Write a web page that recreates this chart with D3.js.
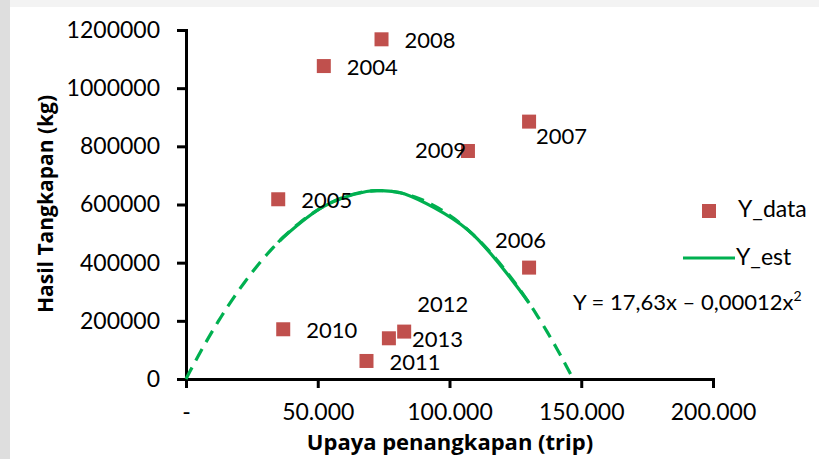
<!DOCTYPE html>
<html>
<head>
<meta charset="utf-8">
<script src="https://cdn.jsdelivr.net/npm/d3@7"></script>
<style>
  html, body { margin: 0; padding: 0; background: #fff; }
  svg { display: block; font-family: Lato, "Open Sans", sans-serif; }
</style>
</head>
<body>
<svg id="chart" width="819" height="459"></svg>
<script>
// Observed catch vs. fishing effort, per year
const years  = ["2004","2005","2006","2007","2008","2009","2010","2011","2012","2013"];
const effort = [52300, 35000, 130200, 130200, 74200, 107000, 36900, 68500, 82800, 77000];
const catchData = [1076000, 618000, 383000, 885000, 1168000, 784000, 171000, 62000, 163000, 140000];
// Estimated catch at each year's effort
const catchEst = [593814, 470050, 261181, 261181, 647469, 512530, 487154, 644585, 637063, 646030];
// Fitted model Y = a*x - b*x^2
const coefA = 17.63, coefB = 0.00012;

const yTicks = [0, 200000, 400000, 600000, 800000, 1000000, 1200000];
const xTicks = [0, 50000, 100000, 150000, 200000];
const xTickLabels = ["-", "50.000", "100.000", "150.000", "200.000"];

// Year label placement: default sits right of the marker; some are moved
const labelOffsets = {
  "2006": [-57, -29], "2007": [-16, 13], "2009": [-76, -2], "2012": [-10, -29]
};

const svg = d3.select("#chart");

// faint page edge bands
svg.append("rect").attr("x", 0).attr("y", 0).attr("width", 819).attr("height", 7).attr("fill", "#f3f3f3");
svg.append("rect").attr("x", 0).attr("y", 0).attr("width", 10).attr("height", 459).attr("fill", "#dedede");

const x = d3.scaleLinear().domain([0, 200000]).range([186, 713]);
const y = d3.scaleLinear().domain([0, 1200000]).range([379, 30]);

// Y axis
const yAxisG = svg.append("g").attr("class", "y-axis").attr("transform", "translate(186,0)")
  .call(d3.axisLeft(y).tickValues(yTicks).tickSize(9).tickSizeOuter(0).tickPadding(17)
    .tickFormat(d3.format("d")));
// X axis
const xAxisG = svg.append("g").attr("class", "x-axis").attr("transform", "translate(0,379)")
  .call(d3.axisBottom(x).tickValues(xTicks).tickSize(9).tickSizeOuter(0).tickPadding(16)
    .tickFormat((d, i) => xTickLabels[i]));

[yAxisG, xAxisG].forEach(g => {
  g.attr("color", "#000");
  g.selectAll("line").attr("stroke-width", 3);
  g.select(".domain").attr("stroke-width", 3).attr("stroke-linecap", "square");
  g.selectAll("text").attr("font-size", 23).attr("fill", "#000").attr("font-family", "Lato");
});

// Axis titles
svg.append("text").attr("x", 450).attr("y", 450).attr("text-anchor", "middle")
  .style("font-family", "'Open Sans'").attr("font-size", 22).attr("font-weight", "bold")
  .text("Upaya penangkapan (trip)");
svg.append("text").attr("transform", "translate(53,204) rotate(-90)").attr("text-anchor", "middle")
  .style("font-family", "'Open Sans'").attr("font-size", 21).attr("font-weight", "bold")
  .text("Hasil Tangkapan (kg)");

// Fitted trend (dashed) from zero effort to the curve's root
const root = coefA / coefB;
const trendX = d3.range(0, root, root / 120).concat([root]);
svg.append("path")
  .datum(trendX)
  .attr("fill", "none").attr("stroke", "#00b050").attr("stroke-width", 3.2)
  .attr("stroke-dasharray", "13,8")
  .attr("d", d3.line().x(d => x(d)).y(d => y(coefA * d - coefB * d * d)));

// Y_est series (solid) through sorted effort values
const estPts = Array.from(new Map(
  effort.map((e, i) => [e, [e, catchEst[i]]])
).values()).sort((a, b) => a[0] - b[0]);
svg.append("path")
  .datum(estPts)
  .attr("fill", "none").attr("stroke", "#00b050").attr("stroke-width", 3.2)
  .attr("stroke-linejoin", "round")
  .attr("d", d3.line().x(d => x(d[0])).y(d => y(d[1])).curve(d3.curveCatmullRom.alpha(0.5)));

// Y_data markers
const sq = 14;
svg.append("g").selectAll("rect").data(years).join("rect")
  .attr("x", (d, i) => x(effort[i]) - sq / 2)
  .attr("y", (d, i) => y(catchData[i]) - sq / 2)
  .attr("width", sq).attr("height", sq)
  .attr("fill", "#c0504d");

// Year labels
svg.append("g").selectAll("text").data(years).join("text")
  .attr("x", (d, i) => x(effort[i]) + (labelOffsets[d] ? labelOffsets[d][0] : 0) + 23)
  .attr("y", (d, i) => y(catchData[i]) + (labelOffsets[d] ? labelOffsets[d][1] : 0) + 9)
  .attr("font-size", 22).attr("fill", "#000")
  .text(d => d);

// Legend
svg.append("rect").attr("x", 709 - sq / 2).attr("y", 211 - sq / 2).attr("width", sq).attr("height", sq).attr("fill", "#c0504d");
svg.append("text").attr("x", 738).attr("y", 217).attr("font-size", 23).text("Y_data");
svg.append("line").attr("x1", 683).attr("x2", 735).attr("y1", 258).attr("y2", 258)
  .attr("stroke", "#00b050").attr("stroke-width", 3.2);
svg.append("text").attr("x", 736).attr("y", 265).attr("font-size", 23).text("Y_est");

// Model equation
const eq = svg.append("text").attr("x", 573).attr("y", 310).attr("font-size", 22);
eq.append("tspan").text(`Y = ${String(coefA).replace(".", ",")}x \u2013 ${coefB.toFixed(5).replace(".", ",")}x`);
eq.append("tspan").attr("dy", -9).attr("font-size", 14).text("2");
</script>
</body>
</html>
